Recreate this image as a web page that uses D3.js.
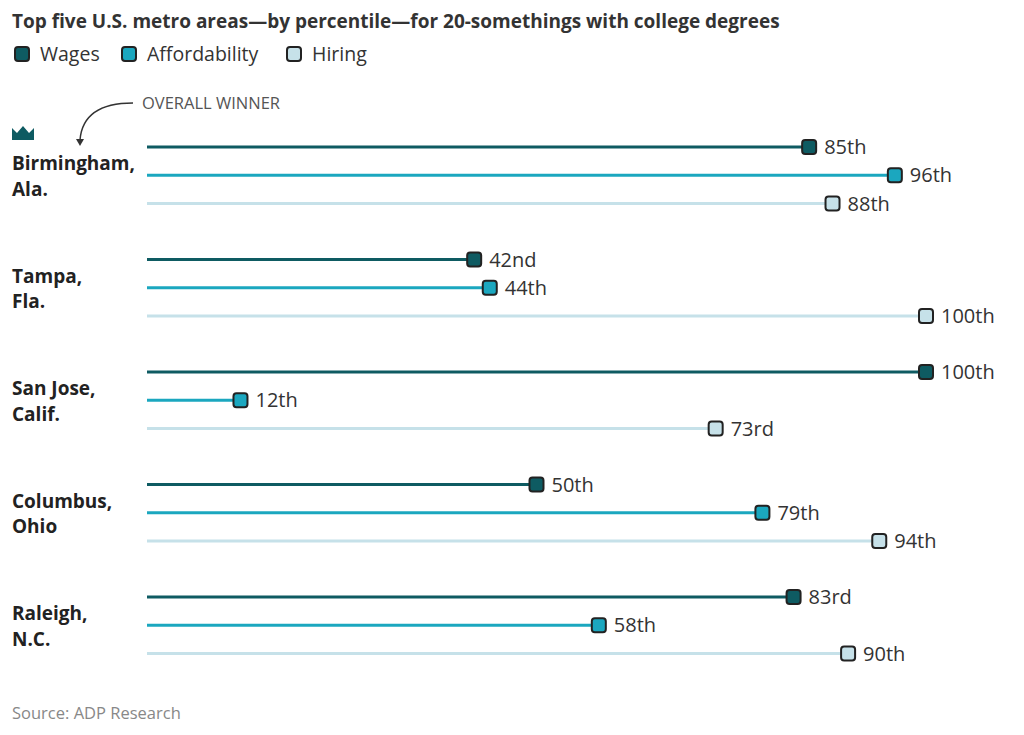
<!DOCTYPE html><html><head><meta charset="utf-8"><script src="https://cdn.jsdelivr.net/npm/d3@7"></script>
<style>body{margin:0;background:#fff;font-family:"Open Sans","Noto Sans",sans-serif}</style></head><body><svg id="c" width="1024" height="735"></svg>
<script>
const cities=[["Birmingham,","Ala."],["Tampa,","Fla."],["San Jose,","Calif."],["Columbus,","Ohio"],["Raleigh,","N.C."]];
const series=["Wages","Affordability","Hiring"];
const wages=[85,42,100,50,83];
const affordability=[96,44,12,79,58];
const hiring=[88,100,73,94,90];
const labels=[["85th","96th","88th"],["42nd","44th","100th"],["100th","12th","73rd"],["50th","79th","94th"],["83rd","58th","90th"]];
const colors=["#0e5b62","#1ba7bf","#c6e1e9"];
const vals=[wages,affordability,hiring];
const svg=d3.select("#c");
const x=d3.scaleLinear().domain([0,100]).range([147,926]);
const gy=d3.scaleLinear().domain([0,4]).range([147,597]);
const ink="#222";
svg.append("text").attr("x",12).attr("y",28).attr("font-size",19).attr("font-weight",700).attr("fill","#333").text("Top five U.S. metro areas—by percentile—for 20-somethings with college degrees");
const lg=[14,121,286];
series.forEach((s,i)=>{
 svg.append("rect").attr("x",lg[i]+1).attr("y",47).attr("width",14).attr("height",14).attr("rx",3).attr("fill",colors[i]).attr("stroke",ink).attr("stroke-width",2);
 svg.append("text").attr("x",lg[i]+26).attr("y",61).attr("font-size",19.5).attr("fill","#333").text(s);
});
svg.append("text").attr("x",142).attr("y",109).attr("font-size",16.5).attr("fill","#555").text("OVERALL WINNER");
svg.append("path").attr("d","M133,103 C100,103 82,115 80,140").attr("fill","none").attr("stroke","#333").attr("stroke-width",1.5);
svg.append("path").attr("d","M76,139 L84,139 L80,146Z").attr("fill","#333");
svg.append("path").attr("d","M12,140 L12,128 L17,133 L23,126 L29,133 L34,128 L34,140Z").attr("fill","#0e5b62");
cities.forEach((c,ci)=>{
 const y0=gy(ci);
 c.forEach((t,j)=>svg.append("text").attr("x",12).attr("y",y0+17+j*25.5+6).attr("font-size",19).attr("font-weight",700).attr("fill","#222").text(t));
 series.forEach((s,si)=>{
  const y=y0+si*28.3, v=vals[si][ci];
  svg.append("line").attr("x1",x(0)).attr("x2",x(v)).attr("y1",y).attr("y2",y).attr("stroke",colors[si]).attr("stroke-width",3);
  svg.append("rect").attr("x",x(v)-7).attr("y",y-7).attr("width",14).attr("height",14).attr("rx",3).attr("fill",colors[si]).attr("stroke",ink).attr("stroke-width",2);
  svg.append("text").attr("x",x(v)+15).attr("y",y+7).attr("font-size",20).attr("fill","#333").text(labels[ci][si]);
 });
});
svg.append("text").attr("x",12).attr("y",719).attr("font-size",16.5).attr("fill","#888").text("Source: ADP Research");
</script></body></html>
